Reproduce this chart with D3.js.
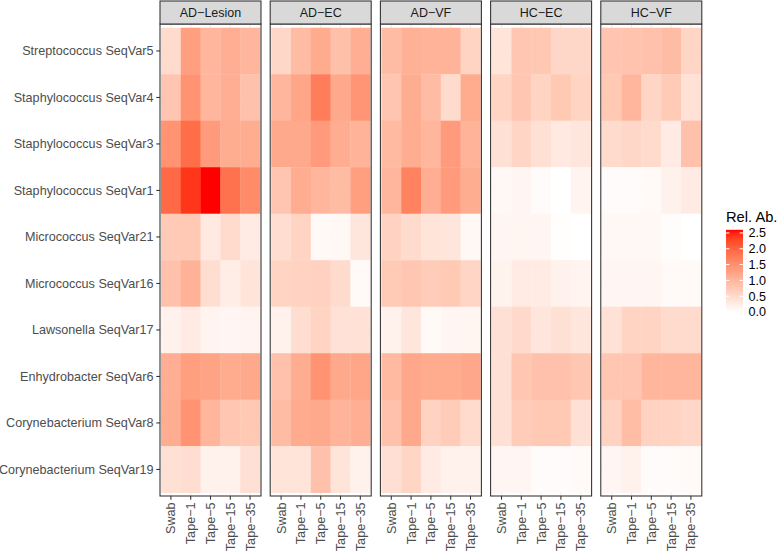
<!DOCTYPE html>
<html>
<head>
<meta charset="utf-8">
<script src="https://cdn.jsdelivr.net/npm/d3@7"></script>
<style>
  body { margin: 0; background: #fff; }
  svg { display: block; font-family: "Liberation Sans", Arial, sans-serif; }
</style>
</head>
<body>
<svg id="chart" width="778" height="552"></svg>
<script>
// ---------------- data ----------------
const panels = ["AD\u2212Lesion", "AD\u2212EC", "AD\u2212VF", "HC\u2212EC", "HC\u2212VF"];
const samples = ["Swab", "Tape\u22121", "Tape\u22125", "Tape\u221215", "Tape\u221235"];
const taxa = [
  "Streptococcus SeqVar5",
  "Staphylococcus SeqVar4",
  "Staphylococcus SeqVar3",
  "Staphylococcus SeqVar1",
  "Micrococcus SeqVar21",
  "Micrococcus SeqVar16",
  "Lawsonella SeqVar17",
  "Enhydrobacter SeqVar6",
  "Corynebacterium SeqVar8",
  "Corynebacterium SeqVar19"
];
const legendTicks = [0, 0.5, 1, 1.5, 2, 2.5];
const valueMax = 2.6;

// rows = taxa, columns = samples
const adLesion = [
  [0.50, 1.30, 1.00, 1.10, 1.00],
  [0.80, 1.45, 1.00, 1.10, 0.85],
  [1.45, 1.90, 1.35, 1.12, 1.12],
  [1.95, 2.40, 2.60, 1.85, 1.55],
  [0.72, 0.75, 0.30, 0.50, 0.28],
  [0.85, 1.05, 0.45, 0.25, 0.38],
  [0.18, 0.28, 0.15, 0.12, 0.15],
  [1.10, 1.30, 1.25, 1.15, 1.17],
  [1.12, 1.45, 1.00, 0.78, 0.75],
  [0.43, 0.46, 0.20, 0.20, 0.43]
];
const adEC = [
  [0.55, 0.92, 1.15, 0.86, 1.10],
  [1.00, 1.22, 1.72, 1.17, 1.43],
  [1.17, 1.17, 1.35, 1.12, 1.04],
  [0.80, 1.12, 1.00, 0.92, 1.30],
  [0.46, 0.60, 0.08, 0.10, 0.34],
  [0.60, 0.62, 0.63, 0.50, 0.07],
  [0.20, 0.46, 0.60, 0.42, 0.42],
  [0.85, 1.12, 1.45, 1.17, 1.22],
  [0.92, 1.15, 1.17, 1.04, 1.10],
  [0.38, 0.38, 0.85, 0.38, 0.18]
];
const adVF = [
  [0.92, 1.07, 1.04, 1.04, 0.60],
  [0.80, 1.12, 0.92, 0.50, 1.15],
  [0.95, 1.12, 1.00, 1.35, 1.04],
  [1.00, 1.65, 1.10, 1.35, 1.12],
  [0.62, 0.50, 0.38, 0.34, 0.10],
  [0.72, 0.78, 0.70, 0.75, 0.57],
  [0.20, 0.34, 0.07, 0.12, 0.14],
  [0.95, 1.20, 1.15, 1.15, 1.20],
  [0.85, 1.17, 0.62, 0.70, 0.50],
  [0.44, 0.57, 0.28, 0.18, 0.18]
];
const hcEC = [
  [0.38, 0.78, 0.76, 0.55, 0.55],
  [0.60, 0.78, 0.60, 0.75, 0.60],
  [0.43, 0.57, 0.43, 0.30, 0.34],
  [0.10, 0.12, 0.05, 0.00, 0.15],
  [0.12, 0.14, 0.12, 0.02, 0.00],
  [0.17, 0.28, 0.28, 0.18, 0.15],
  [0.43, 0.52, 0.34, 0.43, 0.34],
  [0.43, 0.78, 0.85, 0.85, 0.78],
  [0.43, 0.70, 0.75, 0.75, 0.43],
  [0.12, 0.12, 0.05, 0.05, 0.07]
];
const hcVF = [
  [0.80, 0.82, 0.85, 0.92, 0.57],
  [0.75, 1.00, 0.57, 0.72, 0.42],
  [0.50, 0.55, 0.50, 0.28, 0.85],
  [0.05, 0.05, 0.07, 0.20, 0.28],
  [0.10, 0.10, 0.10, 0.03, 0.00],
  [0.12, 0.12, 0.14, 0.07, 0.07],
  [0.42, 0.60, 0.60, 0.50, 0.50],
  [0.78, 0.80, 1.00, 1.00, 1.00],
  [0.62, 0.90, 0.62, 0.60, 0.55],
  [0.12, 0.18, 0.05, 0.05, 0.07]
];
const panelValues = [adLesion, adEC, adVF, hcEC, hcVF];

// ---------------- layout ----------------
const svg = d3.select("#chart");
svg.append("rect").attr("width", 778).attr("height", 552).attr("fill", "#fff");

const panelLeft0 = 160, panelStep = 110.2, panelW = 101;
const stripTop = 1, stripBottom = 24, panelBottom = 496;
const axisFont = 12.6;

const color = d3.scaleLinear()
  .domain([0, valueMax])
  .range(["#ffffff", "#ff0000"])
  .interpolate(d3.interpolateLab);

const yScale = d3.scaleBand().domain(taxa).range([27.7, 492.7]).padding(0);

panels.forEach((p, pi) => {
  const x0 = panelLeft0 + pi * panelStep;
  const xScale = d3.scaleBand().domain(samples).range([x0 + 1, x0 + panelW - 1]).padding(0);
  const g = svg.append("g");

  // panel background
  g.append("rect").attr("x", x0).attr("y", stripBottom)
    .attr("width", panelW).attr("height", panelBottom - stripBottom).attr("fill", "#fff");

  // grid lines
  g.selectAll("line.gx").data(samples).enter().append("line")
    .attr("x1", d => xScale(d) + xScale.bandwidth() / 2)
    .attr("x2", d => xScale(d) + xScale.bandwidth() / 2)
    .attr("y1", stripBottom).attr("y2", panelBottom)
    .attr("stroke", "#ebebeb").attr("stroke-width", 1);
  g.selectAll("line.gy").data(taxa).enter().append("line")
    .attr("y1", d => yScale(d) + yScale.bandwidth() / 2)
    .attr("y2", d => yScale(d) + yScale.bandwidth() / 2)
    .attr("x1", x0).attr("x2", x0 + panelW)
    .attr("stroke", "#ebebeb").attr("stroke-width", 1);

  // tiles
  const cells = [];
  panelValues[pi].forEach((row, ri) => row.forEach((v, ci) => cells.push({ t: taxa[ri], s: samples[ci], v })));
  g.selectAll("rect.cell").data(cells).enter().append("rect")
    .attr("x", d => xScale(d.s))
    .attr("y", d => yScale(d.t))
    .attr("width", xScale.bandwidth() + 0.3)
    .attr("height", yScale.bandwidth() + 0.3)
    .attr("fill", d => color(d.v));

  // panel border
  g.append("rect").attr("x", x0).attr("y", stripBottom)
    .attr("width", panelW).attr("height", panelBottom - stripBottom)
    .attr("fill", "none").attr("stroke", "#333").attr("stroke-width", 1.07);

  // strip
  g.append("rect").attr("x", x0).attr("y", stripTop)
    .attr("width", panelW).attr("height", stripBottom - stripTop)
    .attr("fill", "#d9d9d9").attr("stroke", "#333").attr("stroke-width", 1.07);
  g.append("text").attr("x", x0 + panelW / 2).attr("y", 17)
    .attr("text-anchor", "middle").attr("font-size", 12.5).attr("fill", "#1a1a1a")
    .text(p);

  // x axis ticks and labels
  samples.forEach(s => {
    const cx = xScale(s) + xScale.bandwidth() / 2;
    g.append("line").attr("x1", cx).attr("x2", cx)
      .attr("y1", panelBottom).attr("y2", panelBottom + 3.7)
      .attr("stroke", "#333").attr("stroke-width", 1.07);
    g.append("text")
      .attr("transform", `translate(${cx},${panelBottom + 6.5}) rotate(-90)`)
      .attr("text-anchor", "end").attr("dy", "0.35em")
      .attr("font-size", axisFont).attr("fill", "#4d4d4d")
      .text(s);
  });
});

// y axis
const yAxisG = svg.append("g");
taxa.forEach(t => {
  const cy = yScale(t) + yScale.bandwidth() / 2;
  yAxisG.append("line").attr("x1", panelLeft0 - 3.7).attr("x2", panelLeft0)
    .attr("y1", cy).attr("y2", cy).attr("stroke", "#333").attr("stroke-width", 1.07);
  yAxisG.append("text").attr("x", panelLeft0 - 6.5).attr("y", cy).attr("dy", "0.35em")
    .attr("text-anchor", "end").attr("font-size", axisFont).attr("fill", "#4d4d4d")
    .text(t);
});

// legend
const legX = 726, legW = 17;
const legY = d3.scaleLinear().domain([0, valueMax]).range([312, 229.8]);
const defs = svg.append("defs");
const grad = defs.append("linearGradient").attr("id", "legGrad")
  .attr("x1", 0).attr("y1", 1).attr("x2", 0).attr("y2", 0);
d3.range(0, 1.0001, 0.05).forEach(f => {
  grad.append("stop").attr("offset", f).attr("stop-color", color(f * valueMax));
});
svg.append("text").attr("x", legX).attr("y", 221.5)
  .attr("font-size", 14.7).attr("fill", "#000").text("Rel. Ab.");
svg.append("rect").attr("x", legX).attr("y", legY(valueMax))
  .attr("width", legW).attr("height", legY(0) - legY(valueMax))
  .attr("fill", "url(#legGrad)");
legendTicks.forEach(v => {
  const yy = legY(v);
  svg.append("line").attr("x1", legX).attr("x2", legX + 3.4).attr("y1", yy).attr("y2", yy)
    .attr("stroke", "#fff").attr("stroke-width", 1);
  svg.append("line").attr("x1", legX + legW - 3.4).attr("x2", legX + legW).attr("y1", yy).attr("y2", yy)
    .attr("stroke", "#fff").attr("stroke-width", 1);
  svg.append("text").attr("x", legX + legW + 5.5).attr("y", yy).attr("dy", "0.35em")
    .attr("font-size", axisFont).attr("fill", "#000").text(d3.format(".1f")(v));
});
</script>
</body>
</html>
